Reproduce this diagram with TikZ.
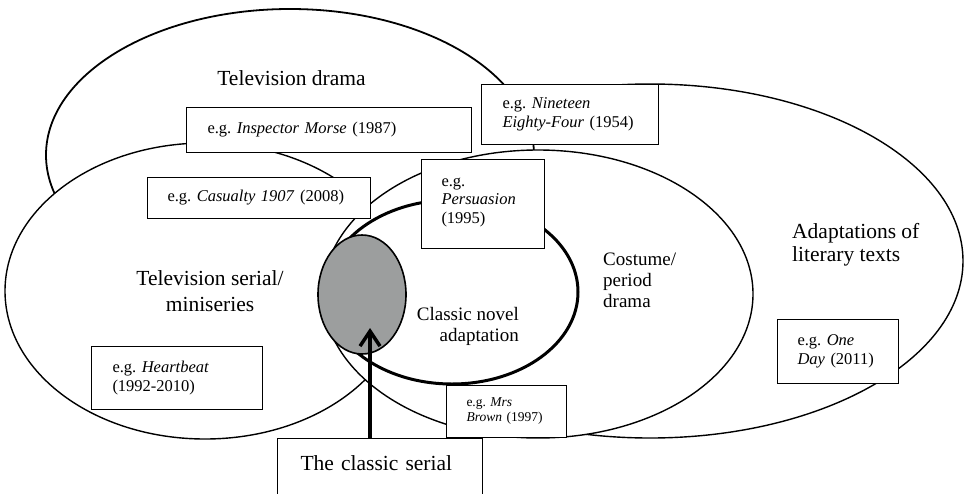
\documentclass[tikz,border=0pt]{standalone}
\usepackage{fontspec}
\setmainfont{Liberation Serif}
\usetikzlibrary{shapes.geometric,arrows.meta}
\definecolor{greyfill}{RGB}{156,158,158}
\newcommand\bigfont{\fontsize{21.5}{26}\selectfont}
\newcommand\midfont{\fontsize{19}{21}\selectfont}
\newcommand\egfont{\fontsize{16.5}{18.7}\selectfont}
\newcommand\tinyegfont{\fontsize{13.5}{15}\selectfont}
\frenchspacing
\tikzset{
  venn/.style={ellipse, draw=black, fill=white, line width=1.4pt, inner sep=0pt, outer sep=0pt},
  egbox/.style={draw=black, fill=white, line width=1pt, inner ysep=0pt, anchor=north west, align=left, font=\egfont},
  biglabel/.style={font=\bigfont, inner sep=0pt},
  midlabel/.style={font=\midfont, inner sep=0pt},
}
\begin{document}
\begin{tikzpicture}[x=1pt,y=-1pt]
\useasboundingbox (0,0) rectangle (964,493);
\clip (0,0) rectangle (964,493);
\fill[white] (0,0) rectangle (964,493);
% ellipses, back to front
\node[venn, minimum width=626pt, minimum height=354pt] (adapt) at (650,261) {};
\node[venn, line width=1.8pt, minimum width=488pt, minimum height=292pt] (tvdrama) at (290,155) {};
\node[venn, minimum width=400pt, minimum height=296pt] (tvserial) at (205,291) {};
\node[venn, minimum width=430pt, minimum height=288pt] (costume) at (538,294) {};
\node[venn, line width=3pt, minimum width=252pt, minimum height=184pt] (classic) at (452,292) {};
\node[venn, fill=greyfill, line width=1.6pt, minimum width=88pt, minimum height=119pt] (serialset) at (362,294.5) {};
% labels (base = baseline of the last line)
\node[biglabel, anchor=base] (ltvdrama) at (291.5,85) {Television drama};
\node[biglabel, anchor=base, align=center] (ltvserial) at (210,311.7) {Television serial/\\miniseries};
\node[midlabel, anchor=base west, align=left] (lcostume) at (603,307) {Costume/\\period\\drama};
\node[midlabel, anchor=base east, align=right] (lclassic) at (519,341.7) {Classic novel\\adaptation};
\node[biglabel, anchor=base west, align=left, font=\fontsize{21.5}{23.5}\selectfont] (ladapt) at (792,261.7) {Adaptations of\\literary texts};
% example boxes
\node[egbox, minimum width=285pt, minimum height=45pt, inner xsep=21pt, text width=243pt] (morse) at (186,107) {e.g. \textit{Inspector Morse} (1987)};
\node[egbox, minimum width=223pt, minimum height=41pt, inner xsep=20pt, text width=183pt] (casualty) at (147,177) {e.g. \textit{Casualty 1907} (2008)};
\node[egbox, minimum width=177pt, minimum height=60pt, inner xsep=21pt, text width=135pt] (nineteen) at (481,84) {e.g. \textit{Nineteen}\\\textit{Eighty-Four} (1954)};
\node[egbox, minimum width=123pt, minimum height=89pt, inner xsep=20pt, text width=83pt, text depth=44pt] (persuasion) at (421,159) {e.g.\\\textit{Persuasion}\\(1995)};
\node[egbox, minimum width=171pt, minimum height=63pt, inner xsep=21pt, text width=129pt] (heartbeat) at (91,346) {e.g. \textit{Heartbeat}\\(1992-2010)};
\node[egbox, font=\tinyegfont, minimum width=120pt, minimum height=52pt, inner xsep=20pt, text width=80pt] (mrsbrown) at (446,385) {e.g. \textit{Mrs}\\\textit{Brown} (1997)};
\node[egbox, minimum width=121pt, minimum height=64pt, inner xsep=20pt, text width=81pt] (oneday) at (777,319) {e.g. \textit{One}\\\textit{Day} (2011)};
\node[egbox, font=\bigfont, minimum width=205pt, minimum height=60pt, inner xsep=23pt, text width=159pt, text depth=10pt] (cs) at (277,438) {The classic serial};
% arrow
\coordinate (tip) at (370,328);
\draw[line width=3.5pt, -{Straight Barb[length=15pt,width=20pt]}] (cs.north -| tip) -- (tip);
\end{tikzpicture}
\end{document}
